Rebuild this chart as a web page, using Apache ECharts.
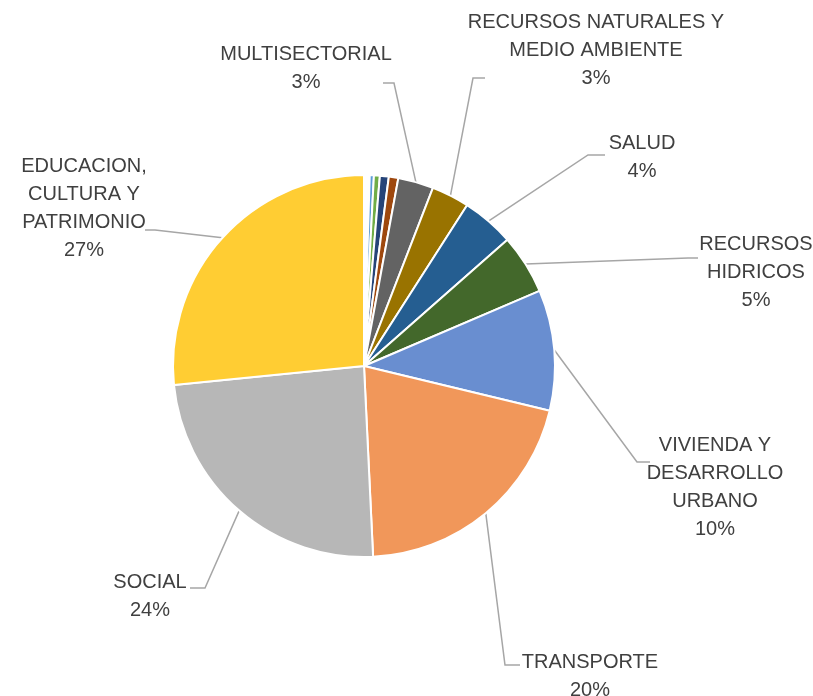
<!DOCTYPE html>
<html>
<head>
<meta charset="utf-8">
<script src="https://cdn.jsdelivr.net/npm/echarts@6/dist/echarts.min.js"></script>
<style>
  html, body { margin: 0; padding: 0; background: #fff; }
  #chart { width: 813px; height: 696px; }
</style>
</head>
<body>
<div id="chart"></div>
<script>
// sectors clockwise from 12 o'clock, share of total (%)
var sectors = [
  'OTRO 1', 'OTRO 2', 'OTRO 3', 'OTRO 4',
  'OTRO 5', 'OTRO 6', 'OTRO 7', 'OTRO 8',
  'MULTISECTORIAL',
  'RECURSOS NATURALES Y\nMEDIO AMBIENTE',
  'SALUD',
  'RECURSOS\nHIDRICOS',
  'VIVIENDA Y\nDESARROLLO\nURBANO',
  'TRANSPORTE',
  'SOCIAL',
  'EDUCACION,\nCULTURA Y\nPATRIMONIO'
]
var shares = [0.12, 0.12, 0.12, 0.12, 0.35, 0.5, 0.75, 0.8, 3.0, 3.2, 4.45, 5.05, 10.2, 20.5, 24.2, 26.6]
var shownLabels = [false, false, false, false, false, false, false, false, true, true, true, true, true, true, true, true]

var colors = ['#4472c4', '#ed7d31', '#a5a5a5', '#ffc000', '#5b9bd5', '#70ad47', '#264478', '#9e480e',
  '#636363', '#997300', '#255e91', '#43682b', '#698ed0', '#f1975a', '#b7b7b7', '#ffcd33']

// label block centres and leader line end / elbow, Excel-style placement
var labelPos = [null, null, null, null, null, null, null, null,
  [306, 68], [596, 50], [642, 157], [756, 272], [715, 487], [590, 676], [150, 596], [84, 208]]
var lineEnd = [null, null, null, null, null, null, null, null,
  [383, 83, 394], [485, 78, 473], [605, 155, 588], [698, 258, 688],
  [650, 462, 637], [520, 665, 505], [190, 588, 205], [145, 230, 155]]

var cx = 364, cy = 366, R = 191

var data = sectors.map(function (name, i) {
  return {
    name: name,
    value: shares[i],
    itemStyle: { color: colors[i] },
    label: { show: shownLabels[i] },
    labelLine: { show: shownLabels[i] }
  }
})

var total = shares.reduce(function (a, b) { return a + b }, 0)
function edgePoint(idx) {
  var before = 0
  for (var k = 0; k < idx; k++) before += shares[k]
  var mid = (before + shares[idx] / 2) / total * Math.PI * 2
  return [cx + R * Math.sin(mid), cy - R * Math.cos(mid)]
}

var chart = echarts.init(document.getElementById('chart'))
chart.setOption({
  backgroundColor: '#fff',
  animation: false,
  series: [{
    type: 'pie',
    center: [cx, cy],
    radius: [0, R],
    startAngle: 90,
    clockwise: true,
    avoidLabelOverlap: false,
    itemStyle: {
      borderColor: '#fff',
      borderWidth: 2
    },
    label: {
      formatter: function (p) {
        return p.name + '\n' + Math.round(p.percent) + '%'
      },
      fontFamily: "'Liberation Sans Narrow', 'Arial Narrow', 'Liberation Sans', Arial, sans-serif",
      fontSize: 20,
      lineHeight: 28,
      color: '#404040',
      align: 'center'
    },
    labelLine: {
      length: 20,
      length2: 20,
      lineStyle: { color: '#a6a6a6', width: 1.5 }
    },
    labelLayout: function (params) {
      var i = params.dataIndex
      var pos = labelPos[i]
      if (!pos) return {}
      var e = lineEnd[i]
      var start = edgePoint(i)
      return {
        x: pos[0],
        y: pos[1],
        align: 'center',
        verticalAlign: 'middle',
        labelLinePoints: [start, [e[2], e[1]], [e[0], e[1]]]
      }
    },
    data: data
  }]
})
</script>
</body>
</html>
